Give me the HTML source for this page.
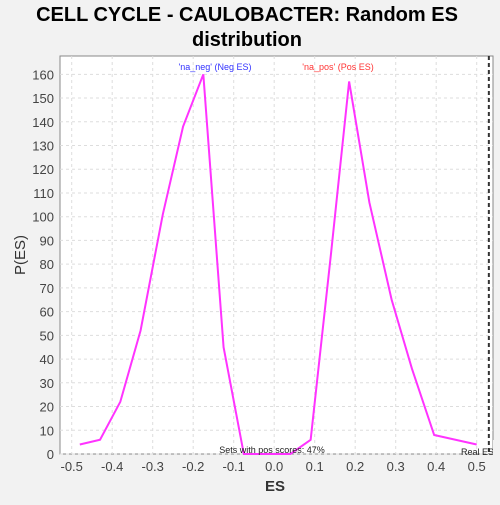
<!DOCTYPE html>
<html><head><meta charset="utf-8"><style>
body{margin:0;background:#f2f2f2;font-family:"Liberation Sans",sans-serif}
</style></head><body>
<svg width="500" height="500" xmlns="http://www.w3.org/2000/svg">
<rect width="500" height="500" fill="#f2f2f2"/>
<text x="247" y="21" text-anchor="middle" font-size="20" font-weight="bold">CELL CYCLE - CAULOBACTER: Random ES</text>
<text x="247" y="46" text-anchor="middle" font-size="20" font-weight="bold">distribution</text>
<rect x="60" y="56" width="433" height="398" fill="#fff" stroke="#888"/>
<g id="grid"></g><g id="ticks"></g>
<text x="275" y="491" text-anchor="middle" font-size="15" font-weight="bold" fill="#333">ES</text>
<text x="25" y="255" text-anchor="middle" font-size="15" fill="#333" transform="rotate(-90 25 255)">P(ES)</text>
<text x="215" y="70" text-anchor="middle" font-size="9" fill="#3333ff">'na_neg' (Neg ES)</text>
<text x="338" y="70" text-anchor="middle" font-size="9" fill="#ff3333">'na_pos' (Pos ES)</text>
<path id="line" fill="none" stroke="#ff33ff" stroke-width="2"/>
<line id="real" y1="56" y2="454" stroke="#333" stroke-width="2" stroke-dasharray="4,3"/>
<text x="272" y="453" text-anchor="middle" font-size="9" fill="#222">Sets with pos scores: 47%</text>
<text x="461" y="455" font-size="9" fill="#222">Real ES</text>
<rect x="493" y="440" width="7" height="20" fill="#f2f2f2"/>
</svg>
<script>
const esValues=[-0.48,-0.43,-0.38,-0.33,-0.275,-0.225,-0.175,-0.125,-0.075,-0.02,0.04,0.09,0.14,0.185,0.235,0.29,0.34,0.395,0.5];
const pValues=[4,6,22,52,101,138,160,45,0,0,0,6,84,157,106,65,36,8,4];
const xTicks=[-0.5,-0.4,-0.3,-0.2,-0.1,0.0,0.1,0.2,0.3,0.4,0.5];
const yTicks=[0,10,20,30,40,50,60,70,80,90,100,110,120,130,140,150,160];
const realES=0.53;
const X=v=>274.2+v*405, Y=v=>454-v*2.373;
const ns="http://www.w3.org/2000/svg";
const g=document.getElementById('grid'),t=document.getElementById('ticks');
function mk(tag,a,p){const e=document.createElementNS(ns,tag);for(const k in a)e.setAttribute(k,a[k]);p.appendChild(e);return e;}
xTicks.forEach(v=>{
 const l=mk('line',{x1:X(v),x2:X(v),y1:56,y2:454,stroke:'#ddd','stroke-dasharray':'3,3'},g);
 
 
 const s=mk('text',{x:X(v),y:471,'text-anchor':'middle','font-size':13,fill:'#444'},t);
 s.textContent=v.toFixed(1);
 
 
});
yTicks.forEach(v=>{
 const l=mk('line',{x1:60,x2:493,y1:Y(v),y2:Y(v),stroke:'#ddd','stroke-dasharray':'3,3'},g);
 
 
 const s=mk('text',{x:54,y:Y(v)+5,'text-anchor':'end','font-size':13,fill:'#444'},t);
 s.textContent=v;
 
 
});
document.getElementById('line').setAttribute('d',esValues.map((v,i)=>(i?'L':'M')+X(v)+','+Y(pValues[i])).join(''));
const r=document.getElementById('real');r.setAttribute('x1',X(realES));r.setAttribute('x2',X(realES));
</script>
</body></html>
